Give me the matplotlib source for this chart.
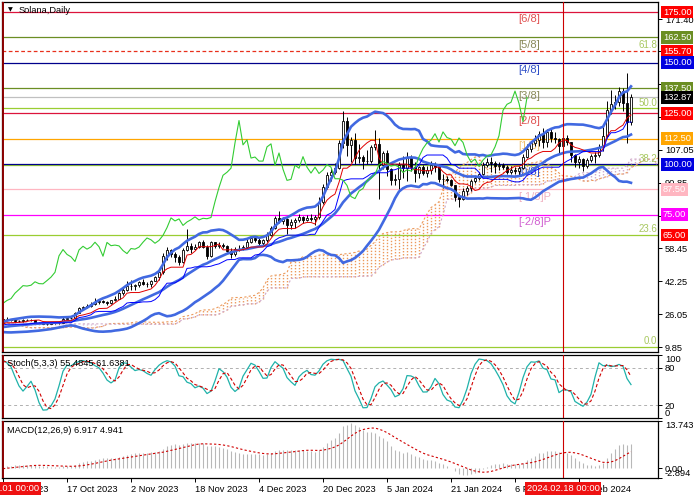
import numpy as np
import pandas as pd
import matplotlib
matplotlib.use("Agg")
import matplotlib.pyplot as plt
import matplotlib.transforms as mtransforms

plt.rcParams['font.family'] = ['Liberation Sans', 'DejaVu Sans']

# warm-up bars 15 Jul - 30 Sep 2023 (only used to seed the indicators)
warm_close = [27.4, 26.6, 26.0, 25.1, 25.7, 26.0, 25.9, 25.0, 25.6, 23.6, 23.9, 24.5, 24.2, 24.0, 24.6, 24.2, 24.5,
              24.1, 23.6, 23.3, 23.0, 22.9, 23.1, 23.6, 24.1, 24.6, 24.8, 24.5, 24.7, 24.6, 24.3, 24.0, 23.0,
              21.1, 21.3, 21.5, 21.7, 21.2, 20.9, 21.8, 21.2, 21.2, 21.1, 21.3, 21.0, 22.0, 21.0, 20.4,
              19.9, 19.7, 19.7, 19.5, 19.5, 19.6, 19.8, 19.4, 19.3, 18.3, 17.6, 18.2, 18.6, 18.8, 19.1,
              19.2, 19.0, 19.4, 19.7, 19.6, 19.2, 19.3, 19.4, 19.1, 19.2, 19.3, 19.6, 20.5, 21.2, 21.5]
warm_high = [28.6, 27.6, 26.9, 26.2, 26.1, 26.8, 26.4, 26.0, 25.9, 25.7, 24.3, 24.9, 25.0, 24.5, 24.9, 24.8, 24.8,
             24.6, 24.4, 23.8, 23.5, 23.1, 23.3, 23.8, 24.4, 25.0, 25.1, 24.9, 24.9, 24.9, 24.8, 24.5, 24.1,
             23.2, 21.8, 21.8, 21.9, 21.9, 21.4, 22.0, 22.0, 21.4, 21.4, 21.5, 21.4, 22.8, 22.4, 21.2,
             20.5, 20.0, 19.9, 19.8, 19.7, 19.8, 20.0, 19.9, 19.5, 19.3, 18.4, 18.4, 18.8, 19.0, 19.3,
             19.4, 19.3, 19.6, 19.9, 20.0, 19.7, 19.4, 19.5, 19.5, 19.4, 19.5, 19.8, 20.7, 21.5, 21.8]
warm_low = [26.8, 26.2, 25.4, 24.8, 24.9, 25.5, 25.3, 24.8, 24.8, 23.3, 23.4, 23.7, 23.9, 23.8, 23.9, 23.9, 24.0,
            23.6, 23.4, 23.1, 22.8, 22.7, 22.8, 22.9, 23.5, 24.0, 24.4, 24.3, 24.4, 24.4, 24.1, 23.8, 22.9,
            20.2, 20.8, 21.1, 21.3, 21.0, 20.5, 20.8, 21.0, 21.0, 20.9, 21.0, 20.8, 20.9, 20.8, 20.2,
            19.7, 19.5, 19.5, 19.3, 19.3, 19.3, 19.4, 19.2, 19.1, 18.1, 17.4, 17.5, 18.0, 18.5, 18.7,
            19.0, 18.9, 18.9, 19.3, 19.3, 19.0, 19.0, 19.2, 19.0, 18.9, 19.1, 19.2, 19.5, 20.3, 21.0]

# daily bars 1 Oct 2023 - 6 Mar 2024 (open = previous close)
first_day = '2023-10-01'
close = [23.8, 23.6, 23.3, 22.6, 22.6, 23.4, 23.4, 23.0, 21.9, 21.9, 21.3, 21.2, 21.6, 21.6, 21.8, 23.9,
         24.3, 24.1, 26.6, 29.1, 29.5, 30.0, 30.9, 32.2, 32.6, 32.0, 31.4, 32.8, 33.7, 36.4, 38.2,
         40.1, 39.9, 40.3, 42.0, 41.1, 41.0, 42.6, 44.3, 46.7, 54.8, 57.9, 55.5, 54.3, 52.0, 57.7,
         59.5, 58.1, 59.2, 61.5, 59.3, 54.6, 61.4, 59.8, 60.1, 59.7, 57.4, 55.9, 58.4, 58.1, 59.1,
         61.5, 63.6, 62.7, 61.0, 62.4, 64.9, 68.7, 73.5, 72.0, 73.0, 69.8, 71.5, 72.6, 74.0, 72.5,
         73.3, 73.1, 73.7, 81.5, 88.5, 94.5, 96.0, 98.0, 110.5, 121.5, 109.5, 112.0, 103.0, 103.5, 101.5, 101.5,
         108.5, 110.0, 99.4, 105.5, 97.5, 92.0, 92.5, 99.5, 98.0, 103.7, 98.5, 95.6, 98.5, 95.4, 97.1,
         99.8, 98.5, 92.8, 92.8, 92.1, 89.5, 84.0, 83.0, 86.7, 88.0, 91.8, 93.0, 95.0, 99.7, 101.2, 100.4,
         99.0, 99.6, 98.5, 95.9, 97.2, 96.6, 98.2, 103.6, 107.7, 110.5, 111.8, 115.0, 110.9, 115.9, 113.1,
         112.4, 109.1, 112.9, 110.7, 104.6, 101.0, 102.5, 98.9, 102.0, 104.0, 104.6, 108.5, 114.0, 126.5,
         129.5, 130.5, 136.0, 130.0, 121.0, 132.87]
high = [24.0, 24.7, 23.8, 23.4, 23.2, 23.7, 23.8, 23.5, 23.1, 22.4, 22.0, 21.5, 21.9, 21.9, 22.0, 24.6,
        24.8, 24.6, 27.0, 29.8, 30.2, 31.0, 32.0, 34.0, 33.5, 33.0, 32.5, 33.2, 34.8, 37.0, 38.8,
        42.3, 42.8, 40.8, 42.5, 43.4, 42.0, 43.0, 45.0, 48.5, 56.0, 59.0, 58.2, 56.5, 55.0, 58.5,
        68.2, 61.0, 60.5, 62.0, 62.5, 60.0, 62.0, 61.8, 61.8, 61.0, 60.0, 58.5, 59.0, 60.0, 60.0,
        63.0, 64.5, 64.2, 64.0, 63.0, 66.5, 69.5, 74.5, 77.0, 74.0, 73.5, 73.0, 73.5, 75.5, 74.5,
        75.0, 75.5, 75.0, 84.0, 90.0, 96.0, 98.0, 100.5, 112.0, 126.0, 123.0, 113.5, 115.5, 110.0, 104.5, 107.0,
        109.5, 117.0, 113.0, 106.5, 107.0, 98.0, 95.0, 101.0, 104.0, 106.0, 104.5, 101.0, 99.0, 99.5, 99.0,
        101.5, 101.0, 99.0, 95.0, 94.0, 92.5, 89.5, 85.5, 88.0, 89.0, 92.5, 94.0, 96.0, 101.0, 103.0, 103.5,
        101.5, 101.0, 100.5, 99.5, 99.0, 98.5, 99.0, 105.0, 110.0, 111.5, 114.5, 116.5, 118.0, 117.5, 117.5,
        116.0, 113.0, 114.0, 114.5, 111.0, 105.0, 104.0, 103.0, 103.0, 105.0, 106.0, 110.0, 118.5, 131.0,
        136.5, 134.0, 138.0, 137.5, 145.0, 134.5]
low = [21.4, 23.2, 22.8, 22.3, 22.1, 22.4, 23.1, 22.8, 21.6, 21.6, 21.0, 20.8, 21.1, 21.4, 21.4, 21.7,
       23.6, 23.7, 23.9, 26.4, 28.5, 29.0, 29.4, 30.5, 31.0, 31.3, 30.6, 31.2, 32.5, 33.5, 35.5,
       37.5, 38.2, 37.8, 39.6, 40.2, 39.5, 39.4, 42.2, 42.8, 46.0, 52.8, 54.0, 52.0, 50.4, 51.5,
       57.0, 56.0, 57.5, 58.5, 58.5, 53.0, 54.0, 58.5, 58.5, 58.8, 56.5, 53.8, 54.8, 57.2, 57.5,
       58.8, 61.0, 61.5, 59.5, 59.5, 61.8, 64.5, 68.0, 71.0, 70.5, 65.5, 68.0, 68.5, 71.5, 71.0,
       72.0, 71.8, 70.0, 73.0, 80.5, 87.5, 91.5, 95.0, 97.5, 108.0, 104.0, 101.0, 100.0, 100.5, 97.5, 100.0,
       100.5, 107.0, 83.0, 97.5, 94.0, 89.5, 89.5, 87.5, 93.0, 91.5, 96.5, 91.0, 93.0, 94.5, 93.5,
       95.0, 96.0, 91.0, 88.0, 91.0, 89.0, 82.0, 79.0, 82.5, 85.0, 87.0, 90.5, 92.0, 94.5, 98.5, 96.0,
       95.5, 97.0, 97.5, 95.0, 95.0, 95.0, 94.5, 97.5, 103.0, 106.0, 109.0, 109.0, 108.0, 108.5, 111.0,
       110.5, 105.5, 108.0, 109.5, 101.0, 98.5, 98.0, 96.5, 98.0, 101.0, 100.5, 103.5, 106.5, 113.0,
       124.5, 127.0, 128.5, 126.0, 110.5, 119.5]

murrey_levels = [175.0, 162.5, 150.0, 137.5, 125.0, 112.5, 100.0, 87.5, 75.0]
murrey_names = ['[6/8]', '[5/8]', '[4/8]', '[3/8]', '[2/8]', '[1/8]', '[0/8]', '[-1/8]P', '[-2/8]P']
fib_levels = [9.85, 65.0, 99.7, 127.5, 155.7]
fib_names = ['0.0', '23.6', '38.2', '50.0', '61.8']
last_price = 132.87
price_boxes = [175.00, 162.50, 155.70, 150.00, 137.50, 132.87, 125.00, 112.50, 100.00, 87.50, 75.00, 65.00]
price_ticks = [9.85, 26.05, 42.25, 58.45, 74.65, 90.85, 107.05, 123.25, 139.45, 155.65, 171.40]
date_ticks = ['2023-10-01', '2023-10-17', '2023-11-02', '2023-11-18', '2023-12-04', '2023-12-20',
              '2024-01-05', '2024-01-21', '2024-02-06', '2024-02-22']
date_tick_labels = ['1 Oct 2023', '17 Oct 2023', '2 Nov 2023', '18 Nov 2023', '4 Dec 2023', '20 Dec 2023',
                    '5 Jan 2024', '21 Jan 2024', '6 Feb 2024', '22 Feb 2024']
vline_dates = ['2023-10-01', '2024-02-18']
vline_labels = ['2023.10.01 00:00', '2024.02.18 00:00']
stoch_title = 'Stoch(5,3,3) 55.4845 61.6381'
macd_title = 'MACD(12,26,9) 6.917 4.941'
macd_scale = [-2.894, 0.0, 13.743]

assert len(warm_close) == len(warm_high) == len(warm_low)
assert len(close) == len(high) == len(low)

# styles
murrey_colors = ['#DC143C', '#6B8E23', '#00008B', '#6B8E23', '#DC143C', '#FFA500', '#00008B', '#FFB6C1', '#FF00FF']
murrey_text = ['#E05050', '#8A8A5A', '#3050C8', '#8A8A5A', '#E05050', '#F0C070', '#3050C8', '#F0B0C0', '#D060D0']
box_colors = ['#FF0000', '#6B8E23', '#FF0000', '#0000E0', '#6B8E23', '#000000', '#FF0000', '#FFA500',
              '#0000E0', '#FFB6C1', '#FF00FF', '#FF0000']
FS = 6.7

day0 = pd.Timestamp(first_day)
def day_x(s):
    return (pd.Timestamp(s) - day0).days

nw = len(warm_close)
n = len(close)
idx = np.arange(-nw, n)
c = pd.Series(warm_close + close, index=idx, dtype=float)
h = pd.Series(warm_high + high, index=idx, dtype=float)
l = pd.Series(warm_low + low, index=idx, dtype=float)
o = c.shift(1)
o.iloc[0] = c.iloc[0]

# indicators
bb_mid = c.rolling(20).mean()
bb_sd = c.rolling(20).std(ddof=0)
bb_up = bb_mid + 2 * bb_sd
bb_dn = bb_mid - 2 * bb_sd
tenkan = (h.rolling(9).max() + l.rolling(9).min()) / 2
kijun = (h.rolling(26).max() + l.rolling(26).min()) / 2
span_a = (tenkan + kijun) / 2
span_b = (h.rolling(52).max() + l.rolling(52).min()) / 2

ll5 = l.rolling(5).min()
hh5 = h.rolling(5).max()
st_k = 100 * (c - ll5).rolling(3).sum() / (hh5 - ll5).rolling(3).sum()
st_d = st_k.rolling(3).mean()

macd = c.ewm(span=12, adjust=False).mean() - c.ewm(span=26, adjust=False).mean()
macd_sig = macd.rolling(9).mean()

vis = idx >= 0
xv = idx[vis]

fig = plt.figure(figsize=(7, 5), dpi=100)
ax = fig.add_axes([2 / 700, 148 / 500, 656 / 700, 350 / 500])
ax_st = fig.add_axes([2 / 700, 82 / 500, 656 / 700, 63 / 500])
ax_md = fig.add_axes([2 / 700, 22 / 500, 656 / 700, 57 / 500])

for a in (ax, ax_st, ax_md):
    a.set_xlim(-0.25, 163.75)
    for sp in a.spines.values():
        sp.set_linewidth(0.9)
        sp.set_color('black')
    a.yaxis.tick_right()
    a.tick_params(axis='y', direction='out', length=3, width=0.7, labelsize=FS, pad=2)
    a.tick_params(axis='x', bottom=False, labelbottom=False)

# ---- main panel ----
ax.set_ylim(7.39, 179.93)
for lv, col in zip(murrey_levels, murrey_colors):
    ax.axhline(lv, color=col, lw=0.9, zorder=1)
for lv, name in zip(fib_levels, fib_names):
    if name == '61.8':
        ax.axhline(lv, color='#E8301C', lw=0.9, ls=(0, (3, 2)), zorder=1)
    else:
        ax.axhline(lv, color='#9ACD32', lw=0.9, zorder=0.9)
    ax.text(163.5, lv + 0.4, name, ha='right', va='bottom', fontsize=FS + 0.3, color='#A8C860', zorder=2)
ax.axhline(last_price, color='#C0C0C0', lw=0.9, zorder=1)
for lv, name, col in zip(murrey_levels, murrey_names, murrey_text):
    ax.text(128.8, lv - 1.2, name, ha='left', va='top', fontsize=8, color=col, zorder=2)

# ichimoku cloud (shifted 26 bars forward)
ax_cloud = idx + 26
for x, a_, b_ in zip(ax_cloud, span_a.values, span_b.values):
    if x < 0 or np.isnan(a_) or np.isnan(b_):
        continue
    col = '#EC9A5C' if a_ >= b_ else '#D0A8C8'
    ax.vlines(x, min(a_, b_), max(a_, b_), colors=col, lw=1.0, linestyles=(0, (1, 1.2)), zorder=1.5)
ax.plot(ax_cloud, span_a.values, color='#EC9A5C', lw=0.8, ls=(0, (2, 2)), zorder=1.5)
ax.plot(ax_cloud, span_b.values, color='#D0A8C8', lw=0.8, ls=(0, (2, 2)), zorder=1.5)

# candles
ov, cv, hv, lv_ = o[vis].values, c[vis].values, h[vis].values, l[vis].values
ax.vlines(xv, lv_, hv, colors='black', lw=0.7, zorder=3)
bull = cv >= ov
ax.bar(xv[bull], cv[bull] - ov[bull], bottom=ov[bull], width=0.7, color='white',
       edgecolor='black', lw=0.6, zorder=4)
ax.bar(xv[~bull], ov[~bull] - cv[~bull], bottom=cv[~bull], width=0.7, color='black',
       edgecolor='black', lw=0.6, zorder=4)

# bollinger + ichimoku lines
for s in (bb_up, bb_mid, bb_dn):
    ax.plot(xv, s[vis].values, color='#4169E1', lw=1.9, zorder=5)
ax.plot(xv, tenkan[vis].values, color='#E00000', lw=0.7, zorder=5)
ax.plot(xv, kijun[vis].values, color='#0000FF', lw=0.7, zorder=5)
ax.plot(idx[vis] - 26, c[vis].values, color='#33CC33', lw=0.8, zorder=5)

ax.set_yticks(price_ticks)
ax.set_yticklabels(['%.2f' % t for t in price_ticks])
tr = mtransforms.blended_transform_factory(ax.transAxes, ax.transData)
for val, col in zip(price_boxes, box_colors):
    ax.text(1.0075, val, '%.2f' % val, transform=tr, ha='left', va='center', fontsize=FS, color='white',
            clip_on=False, zorder=10,
            bbox=dict(boxstyle='square,pad=0.2', fc=col, ec='none'))
ax.text(0.0245, 0.977, 'Solana,Daily', transform=ax.transAxes, ha='left', va='center', fontsize=FS, zorder=10)
ax.text(0.012, 0.977, '\u25bc', transform=ax.transAxes, ha='center', va='center', fontsize=4.5,
        family='DejaVu Sans', zorder=10)

# ---- stochastic ----
ax_st.set_ylim(0, 100)
ax_st.axhline(80, color='#B0B0B0', lw=0.7, ls=(0, (3, 3)))
ax_st.axhline(20, color='#B0B0B0', lw=0.7, ls=(0, (3, 3)))
ax_st.plot(xv, st_k[vis].values, color='#20B2AA', lw=0.9, zorder=3)
ax_st.plot(xv, st_d[vis].values, color='#D00000', lw=0.8, ls=(0, (3, 2)), zorder=3)
ax_st.set_yticks([0, 20, 80, 100])
ax_st.set_yticklabels(['0', '20', '80', '100'])
st_labels = ax_st.get_yticklabels()
st_labels[0].set_va('bottom')
st_labels[3].set_va('top')
ax_st.text(0.008, 0.86, stoch_title, transform=ax_st.transAxes, ha='left', va='center', fontsize=FS)

# ---- macd ----
ax_md.set_ylim(macd_scale[0], macd_scale[2])
ax_md.vlines(xv, 0, macd[vis].values, colors='#B8B8B8', lw=0.8, zorder=2)
ax_md.plot(xv, macd_sig[vis].values, color='#D00000', lw=0.8, ls=(0, (2, 2)), zorder=3)
ax_md.set_yticks(macd_scale)
ax_md.set_yticklabels(['%.3f' % macd_scale[0], '0.00', '%.3f' % macd_scale[2]])
md_labels = ax_md.get_yticklabels()
md_labels[0].set_va('bottom')
md_labels[2].set_va('top')
ax_md.text(0.008, 0.84, macd_title, transform=ax_md.transAxes, ha='left', va='center', fontsize=FS)

ax_md.set_xticks([day_x(d) for d in date_ticks])
ax_md.set_xticklabels(date_tick_labels)
ax_md.tick_params(axis='x', bottom=True, labelbottom=True, direction='out', length=3, width=0.7,
                  labelsize=FS, pad=2)
for t in ax_md.get_xticklabels():
    t.set_ha('left')

# vertical lines and their date boxes
for d, lab in zip(vline_dates, vline_labels):
    x = day_x(d)
    col = '#8B0000' if x == 0 else '#CC0000'
    for a in (ax, ax_st, ax_md):
        a.axvline(x, color=col, lw=1.4 if x == 0 else 0.8, zorder=6)
    trx = mtransforms.blended_transform_factory(ax_md.transData, ax_md.transAxes)
    ax_md.text(x, -0.19, lab, transform=trx, ha='center', va='center', fontsize=FS, color='white',
               clip_on=False, zorder=10, bbox=dict(boxstyle='square,pad=0.2', fc='#EE1111', ec='none'))

fig.savefig('out.png', dpi=100)
